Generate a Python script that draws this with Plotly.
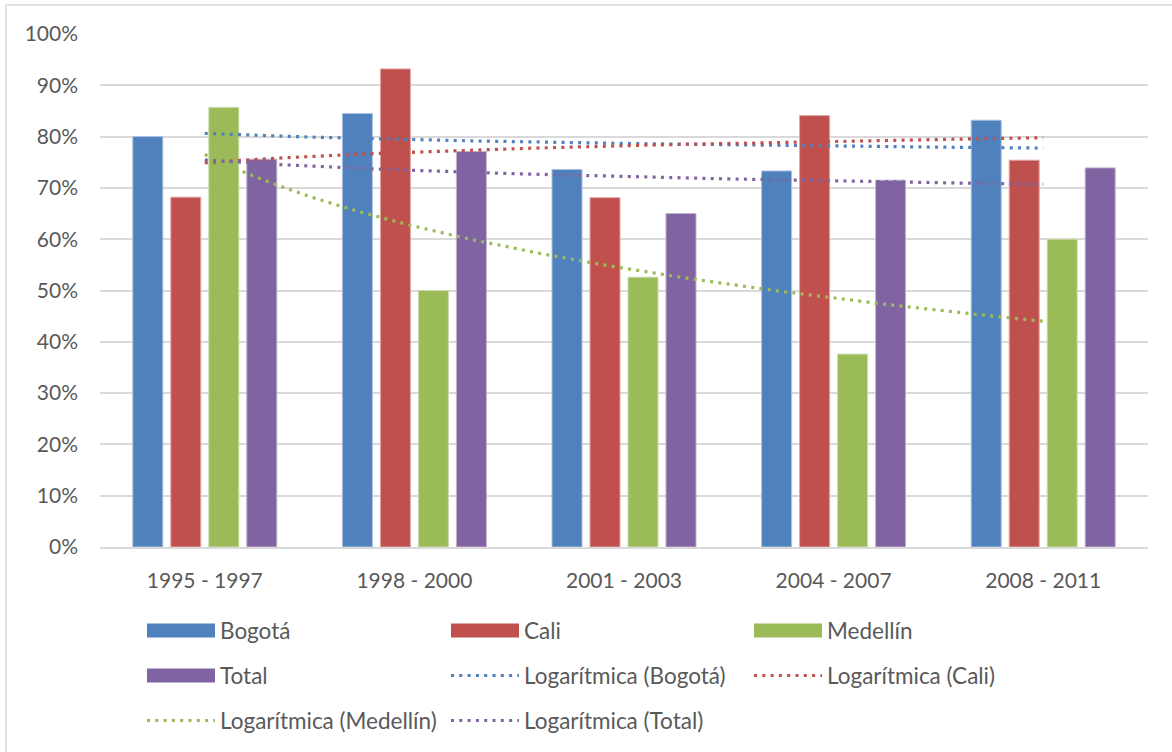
import numpy as np
import plotly.graph_objects as go

categories = ["1995 - 1997", "1998 - 2000", "2001 - 2003", "2004 - 2007", "2008 - 2011"]
bogota = [0.800, 0.845, 0.736, 0.733, 0.832]
cali = [0.682, 0.932, 0.681, 0.841, 0.754]
medellin = [0.857, 0.500, 0.526, 0.376, 0.600]
total = [0.756, 0.771, 0.650, 0.715, 0.739]

series_names = ["Bogotá", "Cali", "Medellín", "Total"]
series_values = [bogota, cali, medellin, total]
colors = ["#4f81bd", "#c0504d", "#9bbb59", "#8064a2"]
edge_colors = ["#a9c0de", "#dfa8a6", "#cddcac", "#bfb1d0"]

W, H = 1172, 752
L, R, T, B = 100, 24, 34, 205
PW, PH = W - L - R, H - T - B
FONT = "Lato"
TXT = "#595959"
DOT = "3px,5.3px"

xpos = np.arange(1, len(categories) + 1)

fig = go.Figure()
for name, vals, c, ec in zip(series_names, series_values, colors, edge_colors):
    fig.add_trace(go.Bar(x=xpos, y=vals, name=name, marker=dict(color=c, line=dict(color=ec, width=1)),
                         showlegend=False))

# Excel-style logarithmic trendlines (least-squares fit of y = a*ln(x) + b)
xs = np.linspace(1, len(categories), 300)
for name, vals, c in zip(series_names, series_values, colors):
    a, b = np.polyfit(np.log(xpos), np.array(vals), 1)
    fig.add_trace(go.Scatter(x=xs, y=a * np.log(xs) + b, mode="lines",
                             line=dict(color=c, width=3.2, dash=DOT),
                             name=f"Logarítmica ({name})", showlegend=False, hoverinfo="skip"))


def px_x(p):
    return (p - L) / PW


def px_y(p):
    return (H - B - p) / PH


shapes = []
annotations = []
# outer chart border (left & top visible)
shapes.append(dict(type="rect", xref="paper", yref="paper", x0=px_x(6), x1=px_x(1200), y0=px_y(5), y1=px_y(780),
                   line=dict(color="#d9d9d9", width=1.5), fillcolor="rgba(0,0,0,0)", layer="below"))

legend_items = [
    ("bar", colors[0], "Bogotá"),
    ("bar", colors[1], "Cali"),
    ("bar", colors[2], "Medellín"),
    ("bar", colors[3], "Total"),
    ("line", colors[0], "Logarítmica (Bogotá)"),
    ("line", colors[1], "Logarítmica (Cali)"),
    ("line", colors[2], "Logarítmica (Medellín)"),
    ("line", colors[3], "Logarítmica (Total)"),
]
col_x = [147, 451, 754]
row_y = [630.5, 675.5, 720.5]
for i, (kind, c, label) in enumerate(legend_items):
    cx = col_x[i % 3]
    ry = row_y[i // 3]
    if kind == "bar":
        shapes.append(dict(type="rect", xref="paper", yref="paper", x0=px_x(cx), x1=px_x(cx + 68),
                           y0=px_y(ry - 7), y1=px_y(ry + 7), fillcolor=c, line=dict(width=0)))
    else:
        shapes.append(dict(type="line", xref="paper", yref="paper", x0=px_x(cx), x1=px_x(cx + 68),
                           y0=px_y(ry), y1=px_y(ry), line=dict(color=c, width=3.2, dash=DOT)))
    annotations.append(dict(xref="paper", yref="paper", x=px_x(cx + 71), y=px_y(ry), xanchor="left",
                            yanchor="middle", text=label, showarrow=False,
                            font=dict(family=FONT, size=22.5, color=TXT)))

fig.update_layout(
    width=W, height=H,
    margin=dict(l=L, r=R, t=T, b=B),
    paper_bgcolor="white", plot_bgcolor="white",
    barmode="group", bargap=0.275, bargroupgap=0.21,
    font=dict(family=FONT, size=21, color=TXT),
    shapes=shapes, annotations=annotations,
    showlegend=False,
    xaxis=dict(range=[0.5, len(categories) + 0.5], tickvals=list(xpos), ticktext=categories,
               showgrid=False, zeroline=False, showline=True, linecolor="#d9d9d9", linewidth=1.5,
               ticks="", ticklabelstandoff=14, tickfont=dict(family=FONT, size=21, color=TXT)),
    yaxis=dict(range=[0, 1.0], dtick=0.1, tickformat=".0%", showgrid=True, gridcolor="#d9d9d9",
               gridwidth=1.5, zeroline=False, showline=False, ticks="", ticklabelstandoff=21,
               tickfont=dict(family=FONT, size=21, color=TXT)),
)

fig.write_html("out.html", config={"displayModeBar": False},
               post_script="document.body.style.margin='0';")
